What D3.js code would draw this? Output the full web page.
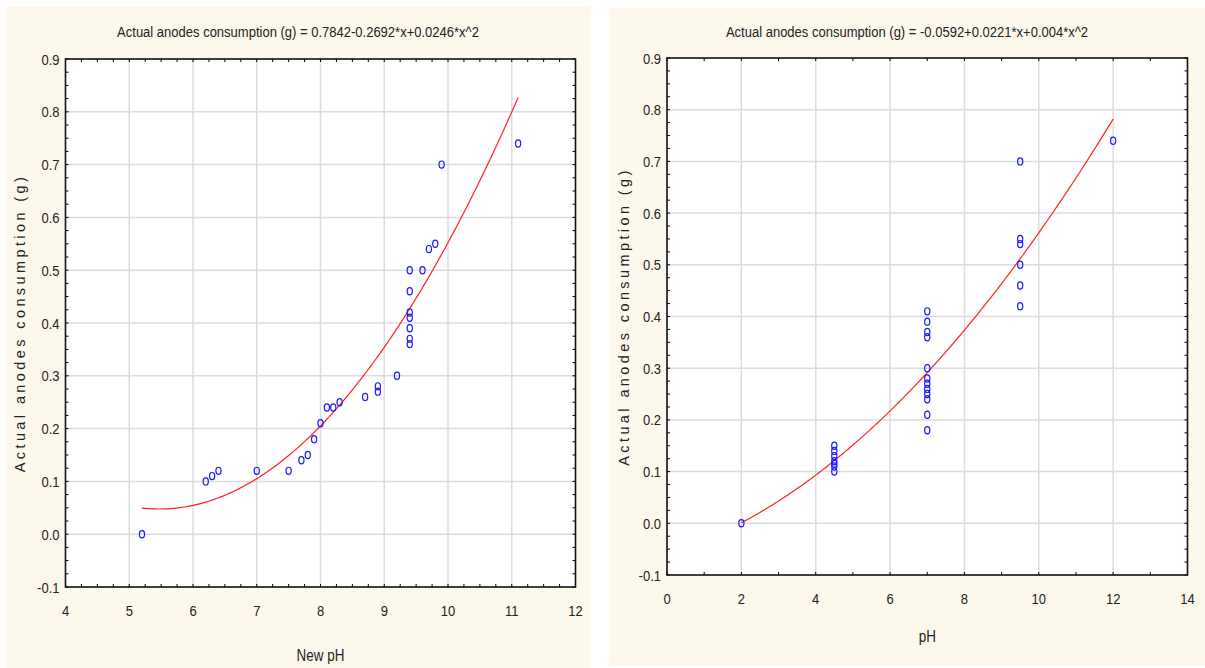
<!DOCTYPE html>
<html>
<head>
<meta charset="utf-8">
<script src="https://cdn.jsdelivr.net/npm/d3@7"></script>
<style>
  body { margin: 0; background: #ffffff; }
  svg { display: block; }
</style>
</head>
<body>
<script>
"use strict";

// DATA

// left chart: New pH vs consumption
const newPh = [5.2, 6.2, 6.3, 6.4, 7.0, 7.5, 7.7, 7.8, 7.9, 8.0, 8.1, 8.2, 8.3, 8.7, 8.9, 8.9,
  9.2, 9.4, 9.4, 9.4, 9.4, 9.4, 9.4, 9.4, 9.6, 9.7, 9.8, 9.9, 11.1];
const newPhUse = [0.0, 0.10, 0.11, 0.12, 0.12, 0.12, 0.14, 0.15, 0.18, 0.21, 0.24, 0.24, 0.25, 0.26, 0.27, 0.28,
  0.30, 0.36, 0.37, 0.39, 0.41, 0.42, 0.46, 0.50, 0.50, 0.54, 0.55, 0.70, 0.74];
const newPhCoef = [0.7842, -0.2692, 0.0246];

// right chart: pH vs consumption
const ph = [2, 4.5, 4.5, 4.5, 4.5, 4.5, 4.5, 4.5,
  7, 7, 7, 7, 7, 7, 7, 7, 7, 7, 7, 7,
  9.5, 9.5, 9.5, 9.5, 9.5, 9.5, 12];
const phUse = [0.0, 0.10, 0.11, 0.115, 0.12, 0.13, 0.14, 0.15,
  0.18, 0.21, 0.24, 0.25, 0.26, 0.27, 0.28, 0.30, 0.36, 0.37, 0.39, 0.41,
  0.42, 0.46, 0.50, 0.54, 0.55, 0.70, 0.74];
const phCoef = [-0.0592, 0.0221, 0.004];

const yTicks = [-0.1, 0.0, 0.1, 0.2, 0.3, 0.4, 0.5, 0.6, 0.7, 0.8, 0.9];
const newPhTicks = [4, 5, 6, 7, 8, 9, 10, 11, 12];
const phTicks = [0, 2, 4, 6, 8, 10, 12, 14];

const yTitle = "Actual anodes consumption (g)";

const W = 1205, H = 668;
const font = "'Liberation Sans', Arial, sans-serif";
const squeeze = 0.84; // no narrow font installed, so squeeze horizontally

const svg = d3.select("body").append("svg").attr("width", W).attr("height", H);

function poly(c, x) { return c[0] + c[1] * x + c[2] * x * x; }

// condensed-looking text
function narrowText(sel, size, anchor) {
  return sel
    .attr("font-family", font).attr("font-size", size)
    .attr("text-anchor", anchor).attr("fill", "#222");
}

function drawPanel(p) {
  const g = svg.append("g");

  // cream panel
  g.append("rect")
    .attr("x", p.panel[0]).attr("y", p.panel[1])
    .attr("width", p.panel[2] - p.panel[0]).attr("height", p.panel[3] - p.panel[1])
    .attr("fill", "#fdf8ec");

  const x = d3.scaleLinear().domain(p.xDomain).range([p.left, p.right]);
  const y = d3.scaleLinear().domain([-0.1, 0.9]).range([p.bottom, p.top]);

  g.append("rect")
    .attr("x", p.left).attr("y", p.top)
    .attr("width", p.right - p.left).attr("height", p.bottom - p.top)
    .attr("fill", "#ffffff");

  // grid
  g.append("g").selectAll("line").data(p.xTicks.slice(1, -1)).join("line")
    .attr("x1", d => x(d)).attr("x2", d => x(d))
    .attr("y1", p.top).attr("y2", p.bottom)
    .attr("stroke", "#dcdcdc").attr("stroke-width", 1.5);
  g.append("g").selectAll("line").data(yTicks.slice(1, -1)).join("line")
    .attr("y1", d => y(d)).attr("y2", d => y(d))
    .attr("x1", p.left).attr("x2", p.right)
    .attr("stroke", "#dcdcdc").attr("stroke-width", 1.5);

  // minor + major ticks, pointing inward on all four sides
  const xMinor = d3.range(p.xDomain[0], p.xDomain[1] + 1e-9, p.xMinorStep);
  const yMinor = d3.range(-0.1, 0.9 + 1e-9, 0.025);
  const tk = g.append("g").attr("stroke", "#000").attr("stroke-width", 1);
  tk.selectAll(".xb").data(xMinor).join("line")
    .attr("x1", d => x(d)).attr("x2", d => x(d))
    .attr("y1", p.bottom).attr("y2", p.bottom - 3);
  tk.selectAll(".xt").data(xMinor).join("line")
    .attr("x1", d => x(d)).attr("x2", d => x(d))
    .attr("y1", p.top).attr("y2", p.top + 3);
  tk.selectAll(".yl").data(yMinor).join("line")
    .attr("y1", d => y(d)).attr("y2", d => y(d))
    .attr("x1", p.left).attr("x2", p.left + 3);
  tk.selectAll(".yr").data(yMinor).join("line")
    .attr("y1", d => y(d)).attr("y2", d => y(d))
    .attr("x1", p.right).attr("x2", p.right - 3);

  // frame
  g.append("rect")
    .attr("x", p.left).attr("y", p.top)
    .attr("width", p.right - p.left).attr("height", p.bottom - p.top)
    .attr("fill", "none").attr("stroke", "#111").attr("stroke-width", 1.6);

  // tick labels
  g.append("g").selectAll("text").data(yTicks).join("text")
    .call(narrowText, 15.5, "end")
    .attr("transform", d => `translate(${p.left - 6},${y(d) + 5.5}) scale(${squeeze},1)`)
    .text(d => d3.format(".1f")(d).replace("−", "-"));
  g.append("g").selectAll("text").data(p.xTicks).join("text")
    .call(narrowText, 15.5, "middle")
    .attr("transform", d => `translate(${x(d)},${p.bottom + 29}) scale(${squeeze},1)`)
    .text(d => d);

  // fitted curve
  const xs = d3.range(p.fitRange[0], p.fitRange[1] + 1e-9, (p.fitRange[1] - p.fitRange[0]) / 120);
  g.append("path")
    .datum(xs)
    .attr("fill", "none").attr("stroke", "#ff2020").attr("stroke-width", 1.2)
    .attr("d", d3.line().x(d => x(d)).y(d => y(poly(p.coef, d))));

  // points
  g.append("g").selectAll("ellipse").data(p.xs.map((v, i) => [v, p.ys[i]])).join("ellipse")
    .attr("cx", d => x(d[0])).attr("cy", d => y(d[1]))
    .attr("rx", 2.6).attr("ry", 3.6)
    .attr("fill", "none").attr("stroke", "#1a1aff").attr("stroke-width", 1.2);

  // titles
  g.append("text").call(narrowText, 15.5, "middle")
    .attr("transform", `translate(${(p.panel[0] + p.panel[2]) / 2},37) scale(${squeeze},1)`)
    .text(p.title);
  g.append("text").call(narrowText, 16, "middle")
    .attr("transform", `translate(${(p.left + p.right) / 2},${p.xLabelY}) scale(${squeeze},1)`)
    .text(p.xLabel);
  g.append("text")
    .attr("transform", `translate(${p.yLabelX},${(p.top + p.bottom) / 2}) rotate(-90)`)
    .attr("text-anchor", "middle").attr("font-family", font)
    .attr("font-size", 14.5).attr("letter-spacing", 3.4)
    .attr("fill", "#222").text(yTitle);
}

drawPanel({
  panel: [5, 7, 591, 668],
  left: 65.5, right: 575.5, top: 59, bottom: 587,
  xDomain: [4, 12], xTicks: newPhTicks, xMinorStep: 0.25,
  xs: newPh, ys: newPhUse, coef: newPhCoef, fitRange: [5.2, 11.1],
  title: "Actual anodes consumption (g) = 0.7842-0.2692*x+0.0246*x^2",
  xLabel: "New pH", xLabelY: 661, yLabelX: 25
});

drawPanel({
  panel: [609, 8, 1205, 665],
  left: 667, right: 1187.5, top: 58, bottom: 575,
  xDomain: [0, 14], xTicks: phTicks, xMinorStep: 1,
  xs: ph, ys: phUse, coef: phCoef, fitRange: [2, 12],
  title: "Actual anodes consumption (g) = -0.0592+0.0221*x+0.004*x^2",
  xLabel: "pH", xLabelY: 642, yLabelX: 629
});
</script>
</body>
</html>
